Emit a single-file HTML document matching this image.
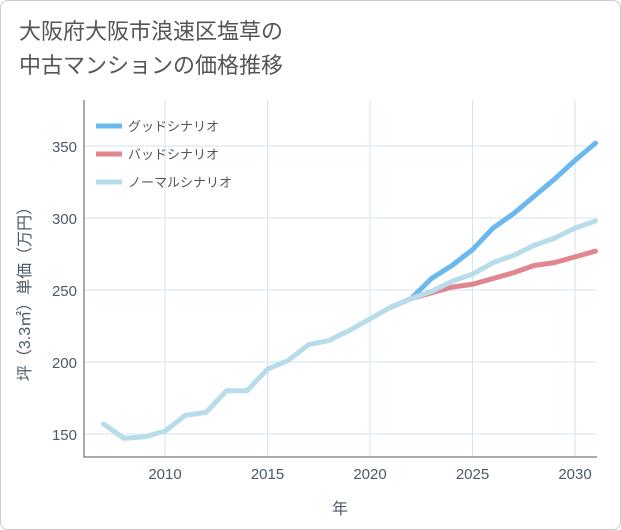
<!DOCTYPE html>
<html><head><meta charset="utf-8"><style>
body{margin:0;background:#fff;}
#wrap{position:relative;width:619px;height:528px;border:1px solid #ccc;border-radius:8px;background:#fff;overflow:hidden;font-family:"Liberation Sans","Noto Sans CJK JP",sans-serif;}
#title{position:absolute;left:18px;top:14px;font-size:22px;line-height:34px;color:#555;}
svg text{font-family:"Liberation Sans","Noto Sans CJK JP",sans-serif;}
</style></head><body>
<div id="wrap">
<div id="title">大阪府大阪市浪速区塩草の<br>中古マンションの価格推移</div>
<svg id="chart" width="621" height="530" style="position:absolute;left:-1px;top:-1px"></svg>
</div>
<script>
const years=[2007,2008,2009,2010,2011,2012,2013,2014,2015,2016,2017,2018,2019,2020,2021,2022,2023,2024,2025,2026,2027,2028,2029,2030,2031];
const normalValues=[157,147,148,152,163,165,180,180,195,201,212,215,222,230,238,244,249,256,261,269,274,281,286,293,298];
const scenarioYears=[2021,2022,2023,2024,2025,2026,2027,2028,2029,2030,2031];
const goodValues=[238,244,258,267,278,293,303,315,327,340,352];
const badValues=[238,244,248,252,254,258,262,267,269,273,277];
const xTicks=[2010,2015,2020,2025,2030];
const yTicks=[150,200,250,300,350];
const NS="http://www.w3.org/2000/svg";
const svg=document.getElementById('chart');
const L=84,R=597,T=100,B=457;
const x=v=>165+(v-2010)*20.5;
const y=v=>362-(v-200)*1.44;
function mk(t,a){const e=document.createElementNS(NS,t);for(const k in a)e.setAttribute(k,a[k]);svg.appendChild(e);return e;}
xTicks.forEach(t=>{const l=mk('line',{x1:x(t),x2:x(t),y1:T,y2:B,stroke:'#d5e3ee','stroke-width':1});


const tx=mk('text',{x:x(t),y:B+22,'text-anchor':'middle','font-size':15,fill:'#4a5a6a'});tx.textContent=t;

});
yTicks.forEach(t=>{const l=mk('line',{x1:L,x2:R,y1:y(t),y2:y(t),stroke:'#d5e3ee','stroke-width':1});


const tx=mk('text',{x:L-7,y:y(t)+6,'text-anchor':'end','font-size':15,fill:'#4a5a6a'});tx.textContent=t;

});
const ax=mk('polyline',{points:`${L},${T} ${L},${B} ${R},${B}`,fill:'none',stroke:'#555','stroke-width':1});


function series(xs,vs,color,name){const p=mk('polyline',{points:xs.map((v,i)=>x(v)+','+y(vs[i])).join(' '),fill:'none',stroke:color,'stroke-width':5,'stroke-linejoin':'round','stroke-linecap':'round'});

}
series(scenarioYears,goodValues,'#6bb8ee','good-scenario-line');
series(scenarioYears,badValues,'#e0868f','bad-scenario-line');
series(years,normalValues,'#b8dcea','normal-scenario-line');
const leg=[['グッドシナリオ','#6bb8ee'],['バッドシナリオ','#e0868f'],['ノーマルシナリオ','#b8dcea']];
leg.forEach((d,i)=>{const yy=126+i*28;const l=mk('line',{x1:96,x2:122,y1:yy,y2:yy,stroke:d[1],'stroke-width':5});


const t=mk('text',{x:128,y:yy+5,'font-size':13,fill:'#555'});t.textContent=d[0];

});
const xt=mk('text',{x:340,y:514,'text-anchor':'middle','font-size':16,fill:'#4a5a6a'});xt.textContent='年';


const yt=mk('text',{x:0,y:0,'text-anchor':'middle','font-size':16,fill:'#4a5a6a',transform:'translate(30,290) rotate(-90)'});yt.textContent='坪（3.3㎡）単価（万円）';


</script>
</body></html>
